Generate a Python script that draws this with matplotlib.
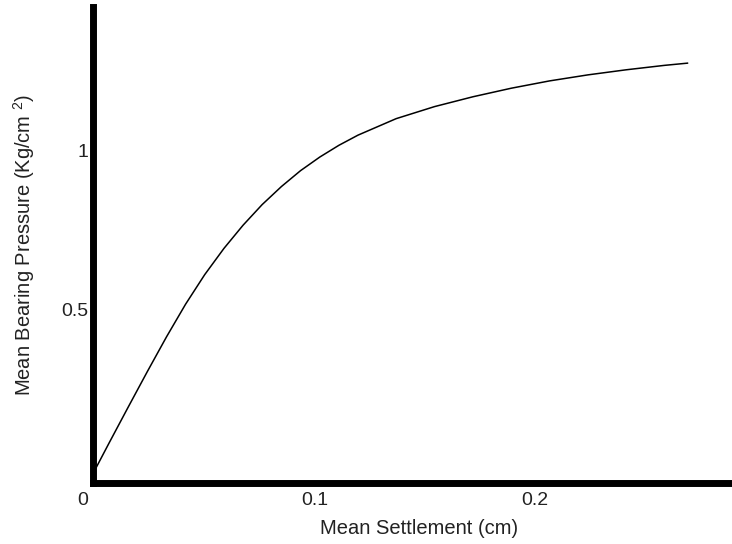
import matplotlib
matplotlib.use("Agg")
import matplotlib.pyplot as plt
import matplotlib.transforms as mtransforms

plt.rcParams['font.family'] = ['Liberation Sans', 'DejaVu Sans']
plt.rcParams['mathtext.fontset'] = 'custom'
plt.rcParams['mathtext.rm'] = 'Liberation Sans'
plt.rcParams['mathtext.default'] = 'regular'

# curve
settlement = [0.0, 0.006, 0.0147, 0.0235, 0.0322, 0.0409, 0.0496, 0.0584,
              0.0671, 0.0758, 0.0846, 0.0933, 0.1021, 0.1108, 0.1195, 0.1369,
              0.1544, 0.1719, 0.1894, 0.2068, 0.2243, 0.2417, 0.2592, 0.2697]
pressure = [0.0, 0.079, 0.192, 0.305, 0.414, 0.517, 0.610, 0.693,
            0.766, 0.831, 0.888, 0.938, 0.981, 1.018, 1.050, 1.102,
            1.140, 1.171, 1.198, 1.221, 1.240, 1.256, 1.270, 1.277]

xticks = [0, 0.1, 0.2]
xticklabels = ['0', '0.1', '0.2']
yticks = [0.5, 1]
yticklabels = ['0.5', '1']

fig = plt.figure(figsize=(7.32, 5.44), dpi=100)
ax = fig.add_axes([0.1277, 0.1121, 0.8723, 0.875])

ax.plot(settlement, pressure, color='black', lw=1.1, solid_joinstyle='round')

ax.set_xlim(-0.0011, 0.290)
ax.set_ylim(-0.047, 1.454)

# ======================= spines =======================
for s in ['top', 'right']:
    ax.spines[s].set_visible(False)
for s in ['left', 'bottom']:
    ax.spines[s].set_linewidth(5.0)
    ax.spines[s].set_color('black')

ax.set_xticks(xticks)
ax.set_xticklabels(xticklabels)
ax.set_yticks(yticks)
ax.set_yticklabels(yticklabels)
ax.tick_params(axis='x', length=0, pad=6.5, labelsize=14, labelcolor='#222222')
ax.tick_params(axis='y', length=0, pad=4, labelsize=14, labelcolor='#222222')

# the "0" label sits a bit left in the original
lab0 = ax.get_xticklabels()[0]
lab0.set_transform(lab0.get_transform() +
                   mtransforms.ScaledTranslation(-13/100, 0, fig.dpi_scale_trans))

ax.set_xlabel('Mean Settlement (cm)', fontsize=14.5, color='#222222')
ax.set_ylabel('Mean Bearing Pressure (Kg/cm $^2$)', fontsize=14.5, color='#222222')
ax.xaxis.set_label_coords(0.51, -0.076)
ax.yaxis.set_label_coords(-0.0885, 0.5)

fig.savefig('out.png', dpi=100)
